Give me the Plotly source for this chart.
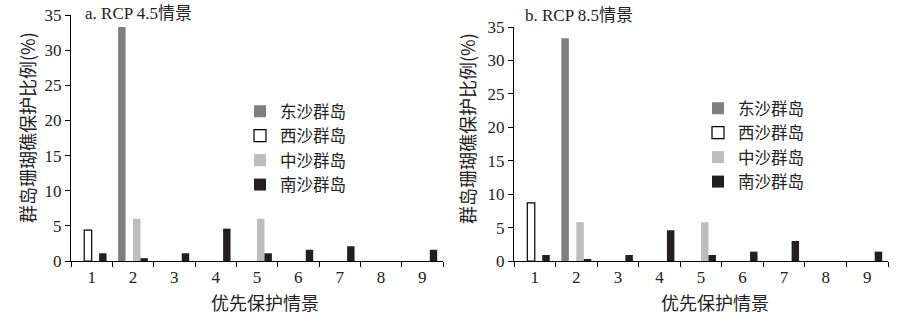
import plotly.graph_objects as go

categories = ["1", "2", "3", "4", "5", "6", "7", "8", "9"]
series_names = ["东沙群岛", "西沙群岛", "中沙群岛", "南沙群岛"]

# Panel a: RCP 4.5
a_dongsha = [0, 33.3, 0, 0, 0, 0, 0, 0, 0]
a_xisha = [4.4, 0, 0, 0, 0, 0, 0, 0, 0]
a_zhongsha = [0, 6.0, 0, 0, 6.0, 0, 0, 0, 0]
a_nansha = [1.1, 0.4, 1.1, 4.6, 1.1, 1.6, 2.1, 0, 1.6]

# Panel b: RCP 8.5
b_dongsha = [0, 33.3, 0, 0, 0, 0, 0, 0, 0]
b_xisha = [8.7, 0, 0, 0, 0, 0, 0, 0, 0]
b_zhongsha = [0, 5.8, 0, 0, 5.8, 0, 0, 0, 0]
b_nansha = [0.9, 0.3, 0.9, 4.6, 0.9, 1.4, 3.0, 0, 1.4]

colors = ["#7f7f7f", "#ffffff", "#bdbdbd", "#231f20"]
line_w = [0, 1.2, 0, 0]

W, H = 900, 321
FONT = "Liberation Serif, 'Noto Sans CJK SC', serif"
CJK = "'Noto Sans CJK SC', serif"

fig = go.Figure()
panels = [
    ([a_dongsha, a_xisha, a_zhongsha, a_nansha], "x", "y", "legend"),
    ([b_dongsha, b_xisha, b_zhongsha, b_nansha], "x2", "y2", "legend2"),
]
for vals, xa, ya, lg in panels:
    for name, v, c, lw in zip(series_names, vals, colors, line_w):
        fig.add_trace(go.Bar(
            x=categories, y=[val if val else None for val in v], name=name,
            xaxis=xa, yaxis=ya, legend=lg,
            marker=dict(color=c, line=dict(color="#000000", width=lw)),
        ))

def px_x(p):
    return p / W

def px_y(p):
    return (H - p) / H

axis_common = dict(
    showline=True, linecolor="black", linewidth=1, ticks="outside",
    ticklen=5, tickcolor="black", showgrid=False, zeroline=False,
    automargin=False,
    tickfont=dict(family=FONT, size=17, color="#222"),
)
xextra = dict(type="category", tickson="boundaries", ticklabelstandoff=1)

fig.update_layout(
    width=W, height=H,
    margin=dict(l=0, r=0, t=0, b=0, autoexpand=False),
    paper_bgcolor="white", plot_bgcolor="white",
    barmode="group", bargap=0.28, bargroupgap=0,
    xaxis=dict(domain=[px_x(71), px_x(443)], anchor="y", **xextra, **axis_common),
    yaxis=dict(domain=[px_y(261), px_y(15)], anchor="x", range=[0, 35],
               dtick=5, **axis_common),
    xaxis2=dict(domain=[px_x(514), px_x(888)], anchor="y2", **xextra, **axis_common),
    yaxis2=dict(domain=[px_y(261), px_y(27)], anchor="x2", range=[0, 35],
                dtick=5, **axis_common),
    legend=dict(x=px_x(240), y=px_y(94), xanchor="left", yanchor="top",
                font=dict(family=CJK, size=16.5, color="#222"),
                bgcolor="rgba(0,0,0,0)", tracegroupgap=0),
    legend2=dict(x=px_x(698), y=px_y(91), xanchor="left", yanchor="top",
                 font=dict(family=CJK, size=16.5, color="#222"),
                 bgcolor="rgba(0,0,0,0)", tracegroupgap=0),
    showlegend=True,
)

ann_font = dict(family=FONT, size=17, color="#222")
title_font = dict(family=CJK, size=18, color="#222")
fig.add_annotation(text="a. RCP 4.5情景", x=px_x(83), y=px_y(13), xref="paper", yref="paper",
                   xanchor="left", yanchor="middle", showarrow=False, font=ann_font)
fig.add_annotation(text="b. RCP 8.5情景", x=px_x(523), y=px_y(15), xref="paper", yref="paper",
                   xanchor="left", yanchor="middle", showarrow=False, font=ann_font)
fig.add_annotation(text="优先保护情景", x=px_x(265), y=px_y(302), xref="paper", yref="paper",
                   xanchor="center", yanchor="middle", showarrow=False, font=title_font)
fig.add_annotation(text="优先保护情景", x=px_x(715), y=px_y(302), xref="paper", yref="paper",
                   xanchor="center", yanchor="middle", showarrow=False, font=title_font)
fig.add_annotation(text="群岛珊瑚礁保护比例(%)", x=px_x(27), y=px_y(128), xref="paper", yref="paper",
                   xanchor="center", yanchor="middle", textangle=-90, showarrow=False, font=title_font)
fig.add_annotation(text="群岛珊瑚礁保护比例(%)", x=px_x(467), y=px_y(128), xref="paper", yref="paper",
                   xanchor="center", yanchor="middle", textangle=-90, showarrow=False, font=title_font)

fig.write_html("out.html")
